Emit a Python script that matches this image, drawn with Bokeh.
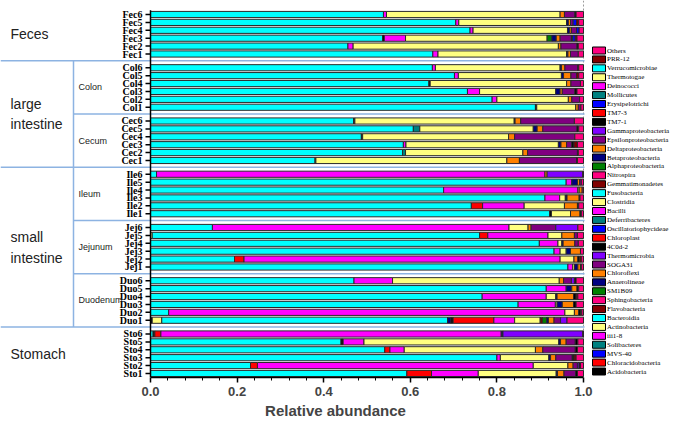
from bokeh.plotting import figure
from bokeh.models import Range1d, ColumnDataSource, LinearAxis, FixedTicker, NumeralTickFormatter
from bokeh.core.properties import value
from bokeh.embed import file_html
from bokeh.resources import INLINE

# ---------------- data ----------------
groups = ["Fec", "Col", "Cec", "Ile", "Jej", "Duo", "Sto"]
group_labels = [["Feces"], ["large", "intestine"], ["small", "intestine"], ["Stomach"]]
subgroup_labels = ["Colon", "Cecum", "Ileum", "Jejunum", "Duodenum"]
samples = [g + str(k) for g in groups for k in range(6, 0, -1)]

legend_names = ["Others", "PRR-12", "Verrucomicrobiae", "Thermotogae", "Deinococci", "Mollicutes",
                "Erysipelotrichi", "TM7-3", "TM7-1", "Gammaproteobacteria", "Epsilonproteobacteria",
                "Deltaproteobacteria", "Betaproteobacteria", "Alphaproteobacteria", "Nitrospira",
                "Gemmatimonadetes", "Fusobacteria", "Clostridia", "Bacilli", "Deferribacteres",
                "Oscillatoriophycideae", "Chloroplast", "4C0d-2", "Thermomicrobia", "SOGA31",
                "Chloroflexi", "Anaerolineae", "SM1B09", "Sphingobacteria", "Flavobacteria",
                "Bacteroidia", "Actinobacteria", "iii1-8", "Solibacteres", "MVS-40",
                "Chloracidobacteria", "Acidobacteria"]
palette14 = ["#000000", "#FF0000", "#0000FF", "#008080", "#FF00FF", "#FFFF80", "#00FFFF",
             "#800000", "#FF0080", "#008000", "#000080", "#FF8000", "#800080", "#8000FF"]

# sample order: Fec6..Fec1, Col6..Col1, Cec6..Cec1, Ile6..Ile1, Jej6..Jej1, Duo6..Duo1, Sto6..Sto1
acidobacteria = [0, 0, 0, 0, 0, 0,
                 0, 0, 0, 0, 0, 0,
                 0, 0, 0, 0, 0, 0,
                 0, 0, 0, 0, 0, 0,
                 0, 0, 0, 0, 0, 0,
                 0, 0, 0, 0, 0, 0.004,
                 0, 0, 0, 0, 0, 0]
actinobacteria = [0, 0, 0, 0, 0, 0,
                  0, 0, 0, 0, 0, 0,
                  0, 0, 0, 0, 0, 0,
                  0, 0, 0, 0, 0, 0,
                  0, 0.004, 0, 0, 0, 0,
                  0, 0, 0, 0, 0, 0.022,
                  0, 0, 0, 0, 0, 0]
bacteroidia = [0.538, 0.705, 0.738, 0.536, 0.456, 0.652,
               0.651, 0.702, 0.643, 0.732, 0.789, 0.889,
               0.469, 0.607, 0.487, 0.584, 0.582, 0.380,
               0.014, 0.960, 0.677, 0.911, 0.741, 0.922,
               0.143, 0.756, 0.898, 0.932, 0.194, 0.964,
               0.470, 0.914, 0.766, 0.849, 0.042, 0.660,
               0.006, 0.440, 0.541, 0.800, 0.231, 0.592]
anaerolineae = [0, 0, 0, 0, 0, 0,
                0, 0, 0, 0, 0, 0,
                0, 0, 0, 0, 0, 0,
                0, 0, 0, 0, 0, 0,
                0, 0, 0, 0, 0, 0,
                0, 0, 0, 0, 0, 0.008,
                0, 0, 0, 0, 0, 0]
c4c0d2 = [0, 0, 0, 0.004, 0, 0,
          0, 0, 0.003, 0, 0, 0.003,
          0.003, 0, 0.003, 0, 0, 0,
          0, 0, 0, 0, 0, 0.004,
          0, 0, 0, 0, 0, 0,
          0, 0, 0, 0, 0, 0.005,
          0.004, 0.005, 0, 0, 0, 0]
chloroplast = [0, 0, 0, 0, 0, 0,
               0, 0, 0, 0, 0, 0,
               0, 0, 0, 0, 0, 0,
               0, 0, 0, 0, 0.026, 0,
               0, 0.019, 0, 0, 0.022, 0,
               0, 0, 0, 0, 0, 0.094,
               0.014, 0, 0.012, 0, 0.016, 0.057]
deferribacteres = [0, 0, 0, 0, 0, 0,
                   0, 0, 0, 0, 0, 0,
                   0, 0.015, 0, 0, 0.007, 0.002,
                   0, 0, 0, 0, 0, 0,
                   0, 0, 0, 0, 0, 0,
                   0, 0, 0, 0, 0, 0,
                   0, 0, 0, 0, 0, 0]
bacilli = [0.007, 0.007, 0.007, 0.049, 0.012, 0.012,
           0.007, 0.009, 0, 0.028, 0.011, 0,
           0, 0, 0, 0.006, 0, 0,
           0.897, 0.013, 0.310, 0.034, 0.096, 0,
           0.685, 0.139, 0.043, 0.014, 0.730, 0.011,
           0.089, 0.046, 0.148, 0.086, 0.915, 0.048,
           0.786, 0.048, 0.033, 0.008, 0.637, 0.108]
clostridia = [0.401, 0.249, 0.218, 0.327, 0.474, 0.297,
              0.288, 0.238, 0.315, 0.176, 0.165, 0.090,
              0.368, 0.262, 0.337, 0.352, 0.271, 0.441,
              0, 0, 0.003, 0.013, 0.093, 0.044,
              0.044, 0.032, 0.009, 0.014, 0.032, 0.004,
              0.385, 0, 0.022, 0.004, 0.022, 0.059,
              0, 0.450, 0.303, 0.112, 0.080, 0.180]
gemmatimonadetes = [0, 0, 0, 0, 0, 0,
                    0, 0, 0, 0, 0, 0,
                    0, 0, 0, 0, 0, 0,
                    0, 0, 0, 0, 0, 0,
                    0, 0, 0, 0, 0, 0,
                    0, 0, 0, 0, 0, 0.005,
                    0, 0, 0, 0, 0, 0]
alphaproteo = [0, 0, 0, 0.011, 0, 0,
               0, 0, 0, 0, 0, 0,
               0, 0, 0, 0, 0, 0,
               0, 0, 0, 0, 0, 0,
               0, 0, 0, 0, 0, 0,
               0, 0, 0, 0, 0, 0.010,
               0, 0, 0, 0, 0, 0]
betaproteo = [0, 0.004, 0.005, 0.010, 0, 0.003,
              0.003, 0.005, 0, 0.010, 0, 0,
              0.002, 0.009, 0, 0.006, 0, 0,
              0, 0.013, 0, 0.004, 0, 0,
              0, 0, 0.003, 0.010, 0, 0.008,
              0, 0.013, 0.003, 0.012, 0, 0.004,
              0.004, 0.004, 0, 0.004, 0, 0.003]
deltaproteo = [0.010, 0.005, 0.004, 0.009, 0.006, 0.006,
               0.008, 0.017, 0.010, 0.005, 0.008, 0.006,
               0.013, 0.013, 0.014, 0.013, 0.011, 0.029,
               0.005, 0.005, 0.007, 0.028, 0.030, 0.022,
               0.007, 0.029, 0.027, 0.023, 0.009, 0.006,
               0.010, 0.012, 0.038, 0.026, 0.010, 0.013,
               0, 0.013, 0.017, 0.012, 0.012, 0.015]
epsilonproteo = [0.024, 0.006, 0.012, 0.026, 0.037, 0.018,
                 0.030, 0.013, 0.022, 0.029, 0.018, 0.006,
                 0.124, 0.079, 0.139, 0.012, 0.115, 0.132,
                 0, 0.004, 0, 0, 0, 0,
                 0.057, 0.007, 0.008, 0, 0, 0,
                 0.018, 0, 0, 0, 0, 0.015,
                 0, 0.021, 0.075, 0.038, 0.010, 0.027]
gammaproteo = [0, 0, 0, 0, 0, 0,
               0, 0, 0, 0, 0, 0,
               0, 0, 0, 0, 0, 0,
               0.082, 0, 0, 0, 0, 0,
               0.051, 0, 0, 0, 0, 0,
               0.007, 0, 0, 0, 0, 0.015,
               0.184, 0, 0, 0, 0.004, 0]
tm7_1 = [0.003, 0, 0, 0.003, 0.003, 0,
         0.002, 0, 0, 0.005, 0, 0,
         0, 0.004, 0, 0.005, 0.002, 0.002,
         0, 0, 0, 0.002, 0.003, 0.003,
         0, 0, 0, 0, 0.004, 0.002,
         0.004, 0.004, 0.006, 0.006, 0.004, 0,
         0, 0.006, 0.005, 0.004, 0.003, 0.004]
erysipelotrichi = [0, 0.008, 0.006, 0.006, 0, 0,
                   0, 0, 0, 0, 0, 0,
                   0, 0, 0, 0, 0, 0,
                   0, 0, 0, 0, 0, 0,
                   0, 0, 0, 0, 0, 0,
                   0, 0, 0, 0, 0, 0,
                   0, 0, 0, 0, 0, 0]
prr12 = [0, 0.005, 0, 0.004, 0, 0,
         0, 0.005, 0, 0, 0, 0,
         0, 0, 0, 0.008, 0, 0,
         0, 0, 0, 0, 0, 0,
         0, 0, 0, 0, 0.004, 0,
         0, 0, 0.004, 0, 0.003, 0,
         0, 0, 0, 0.005, 0, 0]
others = [0.017, 0.011, 0.010, 0.015, 0.012, 0.012,
          0.011, 0.011, 0.007, 0.015, 0.009, 0.006,
          0.021, 0.011, 0.020, 0.014, 0.012, 0.014,
          0.002, 0.005, 0.003, 0.008, 0.011, 0.005,
          0.013, 0.014, 0.012, 0.007, 0.005, 0.005,
          0.017, 0.011, 0.013, 0.017, 0.004, 0.038,
          0.002, 0.013, 0.014, 0.017, 0.007, 0.014]

x_ticks = [0.0, 0.2, 0.4, 0.6, 0.8, 1.0]

# ---------------- assemble ----------------
values = {name: [0.0] * len(samples) for name in legend_names}
values.update({
    "Acidobacteria": acidobacteria, "Actinobacteria": actinobacteria, "Bacteroidia": bacteroidia,
    "Anaerolineae": anaerolineae, "4C0d-2": c4c0d2, "Chloroplast": chloroplast,
    "Deferribacteres": deferribacteres, "Bacilli": bacilli, "Clostridia": clostridia,
    "Gemmatimonadetes": gemmatimonadetes, "Alphaproteobacteria": alphaproteo,
    "Betaproteobacteria": betaproteo, "Deltaproteobacteria": deltaproteo,
    "Epsilonproteobacteria": epsilonproteo, "Gammaproteobacteria": gammaproteo,
    "TM7-1": tm7_1, "Erysipelotrichi": erysipelotrichi, "PRR-12": prr12, "Others": others,
})
n_leg = len(legend_names)
colors = {name: palette14[(n_leg - 1 - i) % 14] for i, name in enumerate(legend_names)}
stack_order = list(reversed(legend_names))

GROUP_STEP = 6.74
pos = [g * GROUP_STEP + j for g in range(len(groups)) for j in range(6)]

left, right, ys, cols = [], [], [], []
for i in range(len(samples)):
    tot = sum(values[n][i] for n in stack_order)
    acc = 0.0
    for n in stack_order:
        v = values[n][i] / tot
        if v > 0:
            left.append(acc)
            right.append(acc + v)
            ys.append(pos[i])
            cols.append(colors[n])
        acc += v

# layout helpers: 433 px per unit of abundance, x=0 at canvas px 150
UNIT = 433.0
X0 = 150.0
def sx(px):
    return (px - X0) / UNIT

p = figure(width=670, height=421, output_backend="svg", toolbar_location=None,
           x_range=Range1d(sx(0), sx(670)), y_range=Range1d(45.949, -1.7722),
           x_axis_type=None, y_axis_type=None,
           min_border_left=0, min_border_right=0, min_border_top=0, min_border_bottom=44)
p.outline_line_color = None
p.xgrid.visible = False
p.ygrid.visible = False
p.background_fill_color = "white"

# dashed guide at 1.0
p.segment(x0=[1.0], x1=[1.0], y0=[-1.77], y1=[45.95], line_color="#9a9a9a",
          line_dash="2 2", line_width=1)

# separators
sep_col = "#8DB3E2"
sep_y = [g * GROUP_STEP + 5.87 for g in range(len(groups) - 1)]
full, sub = sx(0), sx(73)
sep_x0 = [full, sub, full, sub, sub, full]
p.segment(x0=sep_x0, x1=[sx(584)] * len(sep_y), y0=sep_y, y1=sep_y,
          line_color=sep_col, line_width=1.5)
p.segment(x0=[sub], x1=[sub], y0=[sep_y[0]], y1=[sep_y[-1]], line_color=sep_col, line_width=1.5)

# bars
src = ColumnDataSource(dict(left=left, right=right, y=ys, color=cols))
p.hbar(y="y", left="left", right="right", height=0.78, fill_color="color",
       line_color="#2a2a2a", line_width=1, source=src)

# y axis (line, ticks, labels)
p.segment(x0=[0], x1=[0], y0=[-0.55], y1=[45.95], line_color="black", line_width=1.5)
p.segment(x0=[0] * len(pos), x1=[-5 / UNIT] * len(pos), y0=pos, y1=pos, line_color="black", line_width=1.5)
p.text(x=[0] * len(pos), y=pos, text=samples, x_offset=-8, text_align="right",
       text_baseline="middle", text_font=value("Liberation Serif"), text_font_style="bold",
       text_font_size="10px", text_color="black")

# group labels
grp_center = [2.5, GROUP_STEP * 1.5 + 2.5, GROUP_STEP * 4 + 2.5, GROUP_STEP * 6 + 2.5]
gx, gy, gt = [], [], []
for c, lines in zip(grp_center, group_labels):
    if len(lines) == 1:
        gx.append(sx(10)); gy.append(c); gt.append(lines[0])
    else:
        gx += [sx(10), sx(10)]; gy += [c - 1.3, c + 1.3]; gt += lines
p.text(x=gx, y=gy, text=gt, text_align="left", text_baseline="middle",
       text_font=value("Liberation Sans"), text_font_size="14px", text_color="#222222")
sub_y = [GROUP_STEP * g + 2.5 for g in range(1, 6)]
p.text(x=[sx(78)] * 5, y=sub_y, text=subgroup_labels, text_align="left", text_baseline="middle",
       text_font=value("Liberation Sans"), text_font_size="9px", text_color="#222222")

# legend
leg_y = [4.557 + k * 1.1287 for k in range(n_leg)]
p.rect(x=[sx(598.5)] * n_leg, y=leg_y, width=13, height=7, width_units="screen", height_units="screen",
       fill_color=[colors[n] for n in legend_names], line_color="black", line_width=1)
p.text(x=[sx(606.5)] * n_leg, y=leg_y, text=legend_names, text_align="left", text_baseline="middle",
       text_font=value("Liberation Serif"), text_font_size="7px", text_color="black")

# x axis
minor = [round(k * 0.04, 2) for k in range(26) if k % 5]
xaxis = LinearAxis(ticker=FixedTicker(ticks=x_ticks, minor_ticks=minor), bounds=(0, 1),
                   formatter=NumeralTickFormatter(format="0.0"),
                   axis_label="Relative abundance")
xaxis.axis_line_width = 1.5
xaxis.major_tick_line_width = 1.5
xaxis.major_tick_in = 0
xaxis.major_tick_out = 5
xaxis.minor_tick_in = 0
xaxis.minor_tick_out = 3
xaxis.major_label_standoff = 4
xaxis.axis_label_standoff = 3
xaxis.major_label_text_font = "Liberation Sans"
xaxis.major_label_text_font_style = "bold"
xaxis.major_label_text_font_size = "13px"
xaxis.axis_label_text_font = "Liberation Sans"
xaxis.axis_label_text_font_style = "bold"
xaxis.axis_label_text_font_size = "15px"
p.add_layout(xaxis, "below")

open("out.html", "w").write(file_html(p, INLINE))
